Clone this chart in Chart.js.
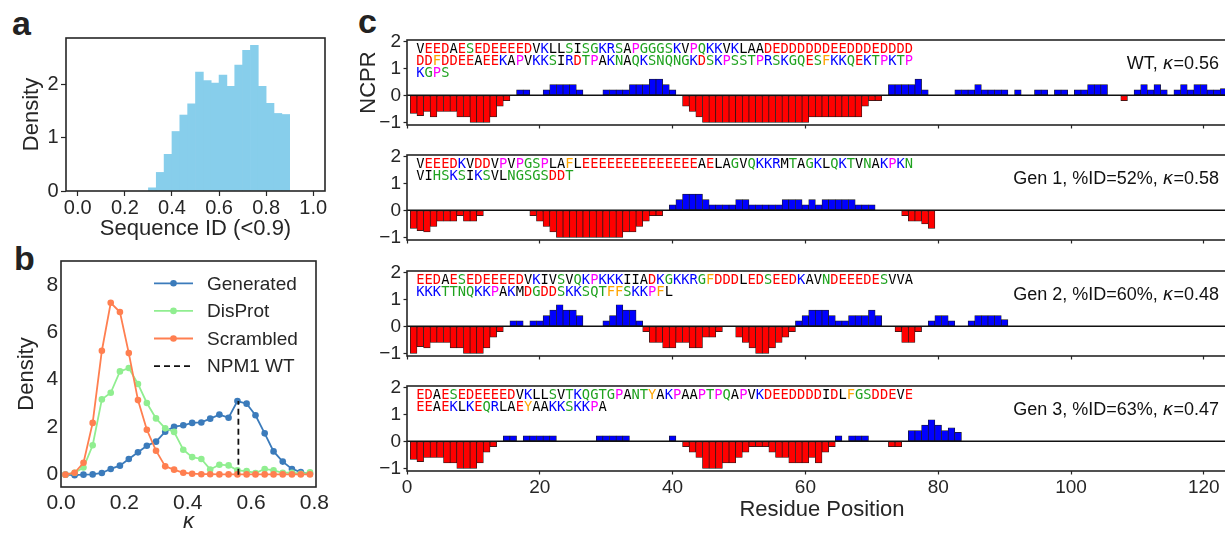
<!DOCTYPE html>
<html>
<head>
<meta charset="utf-8">
<script src="https://cdn.jsdelivr.net/npm/chart.js@4.4.0/dist/chart.umd.min.js"></script>
<style>
html, body { margin: 0; padding: 0; background: #fff; overflow: hidden; width: 1225px; height: 535px; }
canvas { position: absolute; }
.panel { position: absolute; font: bold 34px "Liberation Sans", Arial, sans-serif; line-height: 34px; color: #222; }
</style>
</head>
<body>
<div class="panel" style="left:12px;top:6px">a</div>
<div class="panel" style="left:14px;top:241px">b</div>
<div class="panel" style="left:358px;top:4px">c</div>
<canvas id="histA" width="340" height="250" style="left:0;top:0"></canvas>
<canvas id="kappaB" width="340" height="300" style="left:0;top:235px"></canvas>
<canvas id="ncpr0" width="920" height="115" style="left:330px;top:24px"></canvas>
<canvas id="ncpr1" width="920" height="115" style="left:330px;top:139px"></canvas>
<canvas id="ncpr2" width="920" height="115" style="left:330px;top:255px"></canvas>
<canvas id="ncpr3" width="920" height="165" style="left:330px;top:370px"></canvas>
<script>
// ---- panel a: sequence identity histogram ----
const seqIdBins = [0.3167, 0.35, 0.3833, 0.4167, 0.45, 0.4833, 0.5167, 0.55, 0.5833,
                   0.6167, 0.65, 0.6833, 0.7167, 0.75, 0.7833, 0.8167, 0.85, 0.8833];
const seqIdDensity = [0.06, 0.35, 0.69, 1.12, 1.43, 1.64, 2.24, 2.08, 2.03,
                      2.18, 1.97, 2.37, 2.65, 2.74, 1.97, 1.65, 1.46, 1.44];
const seqIdTicks = [0, 0.2, 0.4, 0.6, 0.8, 1.0];
const densityTicksA = [0, 1, 2];

// ---- panel b: kappa distributions ----
const kappaX = [0.014, 0.043, 0.071, 0.1, 0.129, 0.157, 0.186, 0.214, 0.243, 0.271,
                0.3, 0.329, 0.357, 0.386, 0.414, 0.443, 0.471, 0.5, 0.529, 0.557,
                0.586, 0.614, 0.643, 0.671, 0.7, 0.729, 0.757, 0.786];
const generated = [0.0, -0.02, 0.0, 0.01, 0.07, 0.24, 0.38, 0.66, 0.94, 1.22,
                   1.39, 1.81, 2.02, 2.08, 2.18, 2.20, 2.36, 2.53, 2.40, 3.10,
                   2.99, 2.50, 1.74, 0.98, 0.55, 0.24, 0.11, 0.04];
const disprot = [0.0, 0.08, 0.30, 1.24, 3.17, 3.45, 4.35, 4.49, 3.82, 3.02,
                 2.37, 1.95, 1.80, 1.05, 0.74, 0.66, 0.22, 0.42, 0.39, 0.18,
                 0.15, 0.07, 0.24, 0.18, 0.08, 0.08, 0.04, 0.10];
const scrambled = [0.0, 0.08, 0.50, 2.18, 5.22, 7.24, 6.85, 5.12, 3.14, 1.89,
                   1.01, 0.35, 0.21, 0.08, 0.04, 0.02, 0.02, 0.01, 0.01, 0.01,
                   0.01, 0.01, 0.01, 0.01, 0.01, 0.01, 0.01, 0.01];
const wtKappa = 0.56;
const wtKappaDensity = 3.1;
const kappaTicks = [0, 0.2, 0.4, 0.6, 0.8];
const densityTicksB = [0, 2, 4, 6, 8];

// ---- panel c: NCPR per residue ----
const ncprWT = [-0.67, -0.75, -0.6, -0.8, -0.6, -0.6, -0.6, -0.8, -0.8, -1,
                -1, -1, -0.8, -0.4, -0.2, 0, 0.2, 0.2, 0, 0,
                0.2, 0.4, 0.4, 0.4, 0.4, 0.2, 0, 0, 0, 0.2,
                0.2, 0.2, 0.2, 0.4, 0.4, 0.4, 0.6, 0.6, 0.4, 0.2,
                0, -0.4, -0.6, -0.8, -1, -1, -1, -1, -1, -1,
                -1, -1, -1, -1, -1, -1, -1, -1, -1, -1,
                -0.8, -0.8, -0.8, -0.8, -0.8, -0.8, -0.8, -0.8, -0.4, -0.2,
                -0.2, 0, 0.4, 0.4, 0.4, 0.4, 0.6, 0.2, 0, 0,
                0, 0, 0.2, 0.2, 0.2, 0.4, 0.2, 0.2, 0.2, 0.2,
                0, 0.2, 0, 0, 0.2, 0.2, 0, 0.2, 0.2, 0,
                0.2, 0.2, 0.4, 0.4, 0.4, 0, 0, -0.2, 0, 0.2,
                0.4, 0.2, 0.4, 0.2, 0, 0.2, 0.4, 0.2, 0.4, 0.4,
                0.2, 0.2, 0.25, 0];
const ncprGen1 = [-0.67, -0.75, -0.8, -0.6, -0.4, -0.4, -0.4, -0.2, -0.4, -0.4,
                  -0.2, 0, 0, 0, 0, 0, 0, 0, -0.2, -0.4,
                  -0.6, -0.8, -1, -1, -1, -1, -1, -1, -1, -1,
                  -1, -1, -0.8, -0.8, -0.6, -0.4, -0.2, -0.2, 0, 0.2,
                  0.4, 0.6, 0.6, 0.6, 0.4, 0.2, 0.2, 0.2, 0.2, 0.4,
                  0.4, 0.2, 0.2, 0.2, 0.2, 0.2, 0.4, 0.4, 0.4, 0.2,
                  0.4, 0.2, 0.4, 0.4, 0.4, 0.4, 0.4, 0.2, 0.2, 0.2,
                  0, 0, 0, 0, -0.2, -0.4, -0.4, -0.5, -0.67];
const ncprGen2 = [-1, -0.75, -0.8, -0.6, -0.6, -0.6, -0.8, -0.8, -1, -1,
                  -1, -0.8, -0.4, -0.2, 0, 0.2, 0.2, 0, 0.2, 0.2,
                  0.4, 0.6, 0.8, 0.6, 0.6, 0.4, 0, 0, 0, 0.2,
                  0.4, 0.8, 0.6, 0.6, 0.2, -0.2, -0.6, -0.6, -0.8, -0.8,
                  -0.6, -0.6, -0.8, -0.8, -0.4, -0.4, -0.2, 0, 0, -0.4,
                  -0.6, -0.8, -1, -1, -0.8, -0.6, -0.4, -0.2, 0.2, 0.4,
                  0.6, 0.6, 0.6, 0.4, 0.2, 0.2, 0.4, 0.4, 0.4, 0.6,
                  0.4, 0, 0, -0.2, -0.6, -0.6, -0.2, 0, 0.2, 0.4,
                  0.4, 0.2, 0, 0, 0.2, 0.4, 0.4, 0.4, 0.4, 0.25,
                  0];
const ncprGen3 = [-0.67, -0.75, -0.6, -0.6, -0.6, -0.8, -0.8, -1, -1, -1,
                  -0.8, -0.4, -0.2, 0, 0.2, 0.2, 0, 0.2, 0.2, 0.2,
                  0.2, 0.2, 0, 0, 0, 0, 0, 0, 0.2, 0.2,
                  0.2, 0.2, 0.2, 0, 0, 0, 0, 0, 0, 0.2,
                  0, -0.2, -0.4, -0.6, -1, -1, -1, -0.8, -0.8, -0.6,
                  -0.4, -0.2, -0.2, -0.2, -0.4, -0.6, -0.6, -0.8, -0.8, -0.8,
                  -0.6, -0.8, -0.4, -0.2, 0.2, 0, 0.2, 0.2, 0.2, 0,
                  0, 0, -0.2, -0.2, 0, 0.4, 0.4, 0.6, 0.8, 0.6,
                  0.4, 0.5, 0.33];

const seqWT = ['VEEDAESEDEEEEDVKLLSISGKRSAPGGGSKVPQKKVKLAADEDDDDDDEEDDDEDDDD',
               'DDFDDEEAEEKAPVKKSIRDTPAKNAQKSNQNGKDSKPSSTPRSKGQESFKKQEKTPKTP',
               'KGPS'];
const seqGen1 = ['VEEEDKVDDVPVPGSPLAFLEEEEEEEEEEEEEEAELAGVQKKRMTAGKLQKTVNAKPKN',
                 'VIHSKSIKSVLNGSGSDDT'];
const seqGen2 = ['EEDAESEDEEEEDVKIVSVQKPKKKIIADKGKKRGFDDDLEDSEEDKAVNDEEEDESVVA',
                 'KKKTTNQKKPAKMDGDDSKKSQTFFSKKPFL'];
const seqGen3 = ['EDAESEDEEEEDVKLLSVTKQGTGPANTYAKPAAPTPQAPVKDEEDDDDIDLFGSDDEVE',
                 'EEAEKLKEQRLAEYAAKKSKKPA'];

const panelNames = ['WT', 'Gen 1, %ID=52%', 'Gen 2, %ID=60%', 'Gen 3, %ID=63%'];
const panelKappa = ['0.56', '0.58', '0.48', '0.47'];
const positionTicks = [0, 20, 40, 60, 80, 100, 120];
const ncprTicks = [-1, 0, 1, 2];

const resColors = {
  D: '#ff0000', E: '#ff0000',
  K: '#0000ff', R: '#0000ff',
  S: '#1fa21f', T: '#1fa21f', N: '#1fa21f', Q: '#1fa21f', G: '#1fa21f', H: '#1fa21f',
  P: '#ff00ff',
  F: '#ffa500', Y: '#ffa500', W: '#ffa500'
};

Chart.defaults.font.family = '"Liberation Sans", Arial, sans-serif';
Chart.defaults.color = '#262626';

const INK = '#262626';

// box around the plot area, like matplotlib spines
const framePlugin = {
  id: 'frame',
  afterDraw(chart) {
    const {ctx, chartArea: ca} = chart;
    ctx.save();
    ctx.strokeStyle = INK;
    ctx.lineWidth = 1.6;
    ctx.strokeRect(ca.left, ca.top, ca.right - ca.left, ca.bottom - ca.top);
    ctx.restore();
  }
};
Chart.register(framePlugin);

function fixedTicks(values) {
  return scale => { scale.ticks = values.map(v => ({ value: v })); };
}

function tickGrid(len) {
  return { display: true, drawOnChartArea: false, drawTicks: len > 0, tickLength: len,
           tickColor: INK, tickWidth: 1.2, offset: false };
}

// ---- a ----
new Chart(document.getElementById('histA'), {
  type: 'bar',
  data: {
    datasets: [{
      data: seqIdBins.map((x, i) => ({ x: x, y: seqIdDensity[i] })),
      backgroundColor: '#87ceeb',
      borderWidth: 0,
      barPercentage: 1,
      categoryPercentage: 1
    }]
  },
  options: {
    responsive: false,
    animation: false,
    layout: { padding: { top: 38, right: 15, left: 0, bottom: 0 } },
    plugins: { legend: { display: false }, tooltip: { enabled: false } },
    scales: {
      x: {
        type: 'linear', min: -0.05, max: 1.05, offset: false,
        grid: tickGrid(5), border: { display: false },
        afterBuildTicks: fixedTicks(seqIdTicks),
        afterFit: s => { s.height = 59; },
        ticks: { font: { size: 20 }, padding: 0, maxRotation: 0, callback: v => v.toFixed(1) },
        title: { display: true, text: 'Sequence ID (<0.9)', font: { size: 22 }, padding: { top: 0, bottom: 8 } }
      },
      y: {
        min: 0, max: 2.88,
        grid: tickGrid(5), border: { display: false },
        afterBuildTicks: fixedTicks(densityTicksA),
        afterFit: s => { s.width = 66; },
        ticks: { font: { size: 20 }, padding: 2.3 },
        title: { display: true, text: 'Density', font: { size: 22 }, padding: { top: 19, bottom: 0 } }
      }
    }
  }
});

// ---- b ----
const legendB = {
  id: 'legendB',
  afterDraw(chart) {
    const {ctx, chartArea: ca} = chart;
    ctx.save();
    chart.data.datasets.forEach((ds, i) => {
      const y = ca.top + 22.3 + i * 27.6;
      ctx.strokeStyle = ds.borderColor;
      ctx.lineWidth = 1.8;
      ctx.setLineDash(ds.borderDash || []);
      ctx.beginPath();
      ctx.moveTo(ca.left + 93, y);
      ctx.lineTo(ca.left + 132, y);
      ctx.stroke();
      ctx.setLineDash([]);
      if (ds.pointRadius > 0) {
        ctx.fillStyle = ds.borderColor;
        ctx.beginPath();
        ctx.arc(ca.left + 112.5, y, 3.3, 0, Math.PI * 2);
        ctx.fill();
      }
      ctx.fillStyle = INK;
      ctx.font = '19px "Liberation Sans"';
      ctx.textBaseline = 'middle';
      ctx.fillText(ds.label, ca.left + 146, y + 1);
    });
    ctx.restore();
  }
};

function kappaSeries(label, ys, color, order) {
  return {
    label: label,
    data: kappaX.map((x, i) => ({ x: x, y: ys[i] })),
    borderColor: color,
    backgroundColor: color,
    borderWidth: 1.8,
    pointRadius: 3.3,
    pointBorderWidth: 0,
    pointBackgroundColor: color,
    tension: 0,
    order: order
  };
}

new Chart(document.getElementById('kappaB'), {
  type: 'line',
  data: {
    datasets: [
      kappaSeries('Generated', generated, '#3b7bbb', 4),
      kappaSeries('DisProt', disprot, '#90ee90', 3),
      kappaSeries('Scrambled', scrambled, '#ff7f50', 2),
      {
        label: 'NPM1 WT',
        data: [{ x: wtKappa, y: 0 }, { x: wtKappa, y: wtKappaDensity }],
        borderColor: '#111111',
        borderWidth: 1.8,
        borderDash: [6, 4],
        pointRadius: 0,
        order: 1
      }
    ]
  },
  options: {
    responsive: false,
    animation: false,
    layout: { padding: { top: 26, right: 24, left: 0, bottom: 0 } },
    plugins: { legend: { display: false }, tooltip: { enabled: false } },
    scales: {
      x: {
        type: 'linear', min: 0, max: 0.805, offset: false,
        grid: tickGrid(0), border: { display: false },
        afterBuildTicks: fixedTicks(kappaTicks),
        afterFit: s => { s.height = 48; },
        ticks: { font: { size: 21 }, padding: 3.5, maxRotation: 0, callback: v => v.toFixed(1) },
        title: { display: true, text: 'κ', font: { size: 22, style: 'italic' }, padding: { top: 0, bottom: 0 } }
      },
      y: {
        min: -0.52, max: 9.0,
        grid: tickGrid(0), border: { display: false },
        afterBuildTicks: fixedTicks(densityTicksB),
        afterFit: s => { s.width = 61; },
        ticks: { font: { size: 21 }, padding: 2.7 },
        title: { display: true, text: 'Density', font: { size: 22 }, padding: { top: 14, bottom: 0 } }
      }
    }
  },
  plugins: [legendB]
});

// ---- c ----
const ncprPlugin = {
  id: 'ncprDecor',
  afterDatasetsDraw(chart, args, opts) {
    const {ctx, chartArea: ca, scales} = chart;
    ctx.save();
    // zero line
    const y0 = scales.y.getPixelForValue(0);
    ctx.strokeStyle = '#111';
    ctx.lineWidth = 1.5;
    ctx.beginPath();
    ctx.moveTo(ca.left, y0);
    ctx.lineTo(ca.right, y0);
    ctx.stroke();

    // coloured sequence
    ctx.font = '13.75px "DejaVu Sans Mono"';
    ctx.textBaseline = 'alphabetic';
    opts.lines.forEach((line, li) => {
      let x = ca.left + 9.3;
      const y = ca.top + 13.3 + li * 11.7;
      for (const ch of line) {
        ctx.fillStyle = resColors[ch] || '#000000';
        ctx.fillText(ch, x, y);
        x += ctx.measureText(ch).width;
      }
    });

    // label on the right
    const parts = [
      { t: opts.name + ', ', f: '18px "Liberation Sans"' },
      { t: 'κ', f: 'italic 18px "DejaVu Sans"' },
      { t: '=' + opts.kappa, f: '18px "Liberation Sans"' }
    ];
    let total = 0;
    parts.forEach(p => { ctx.font = p.f; p.w = ctx.measureText(p.t).width; total += p.w; });
    let x = ca.left + 812 - total;
    const yb = ca.top + 29;
    ctx.fillStyle = '#111';
    parts.forEach(p => { ctx.font = p.f; ctx.fillText(p.t, x, yb); x += p.w; });
    ctx.restore();
  }
};

function ncprChart(id, values, seqLines, k, last) {
  const pts = values.map((v, i) => ({ x: i + 1, y: v }));
  return new Chart(document.getElementById(id), {
    type: 'bar',
    data: {
      datasets: [{
        data: pts,
        backgroundColor: pts.map(p => (p.y < 0 ? '#ff0000' : '#0000ff')),
        borderColor: '#1a1a1a',
        borderWidth: 0.7,
        borderSkipped: false,
        barPercentage: 1,
        categoryPercentage: 1
      }]
    },
    options: {
      responsive: false,
      animation: false,
      layout: { padding: { top: 16, right: 13, left: 0, bottom: last ? 0 : 6 } },
      plugins: {
        legend: { display: false },
        tooltip: { enabled: false },
        ncprDecor: { lines: seqLines, name: panelNames[k], kappa: panelKappa[k] }
      },
      scales: {
        x: {
          type: 'linear', min: 0, max: 125, offset: false,
          grid: tickGrid(3.5), border: { display: false },
          afterBuildTicks: fixedTicks(positionTicks),
          afterFit: s => { s.height = last ? 64 : 8; },
          ticks: { display: last, font: { size: 19 }, padding: 1.6, maxRotation: 0, autoSkip: false },
          title: { display: last, text: 'Residue Position', font: { size: 22 }, padding: { top: 0, bottom: 11.8 } }
        },
        y: {
          min: -1.1, max: 2.05,
          grid: tickGrid(3.5), border: { display: false },
          afterBuildTicks: fixedTicks(ncprTicks),
          afterFit: s => { s.width = 77; },
          ticks: { font: { size: 19 }, padding: 2.5, callback: v => (v < 0 ? '−' + (-v) : String(v)) },
          title: { display: k === 0, text: 'NCPR', font: { size: 22 }, padding: { top: 25.8, bottom: 0 } }
        }
      }
    },
    plugins: [ncprPlugin]
  });
}

ncprChart('ncpr0', ncprWT, seqWT, 0, false);
ncprChart('ncpr1', ncprGen1, seqGen1, 1, false);
ncprChart('ncpr2', ncprGen2, seqGen2, 2, false);
ncprChart('ncpr3', ncprGen3, seqGen3, 3, true);
</script>
</body>
</html>
